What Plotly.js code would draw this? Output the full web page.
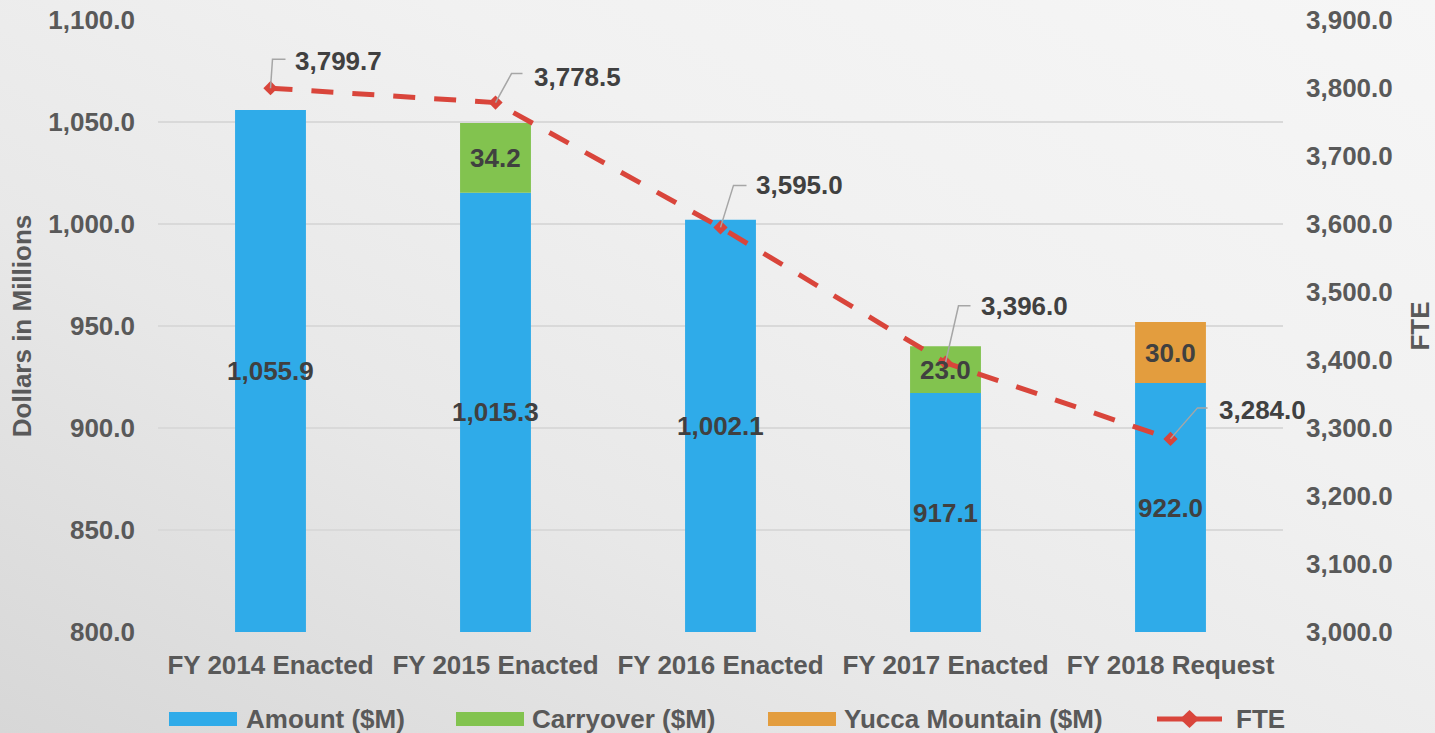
<!DOCTYPE html>
<html><head><meta charset="utf-8">
<script src="https://cdn.plot.ly/plotly-3.0.1.min.js"></script>
<style>
html,body{margin:0;padding:0;width:1435px;height:733px;overflow:hidden;
background:linear-gradient(to top right,#d7d7d7 0%,#e8e8e8 35%,#f1f1f1 65%,#f6f6f6 100%);}
#chart{width:1435px;height:733px;}
</style></head><body><div id="chart"></div>
<script>
// ---- data ----
const categories = ['FY 2014 Enacted', 'FY 2015 Enacted', 'FY 2016 Enacted', 'FY 2017 Enacted', 'FY 2018 Request'];
const amount = [1055.9, 1015.3, 1002.1, 917.1, 922.0];
const carryover = [null, 34.2, null, 23.0, null];
const yucca = [null, null, null, null, 30.0];
const fte = [3799.7, 3778.5, 3595.0, 3396.0, 3284.0];
const dollarTicks = [800, 850, 900, 950, 1000, 1050, 1100];
const fteTicks = [3000, 3100, 3200, 3300, 3400, 3500, 3600, 3700, 3800, 3900];
const seriesNames = ['Amount ($M)', 'Carryover ($M)', 'Yucca Mountain ($M)', 'FTE'];

// ---- styling ----
const COL = {blue: '#2FABE9', green: '#82C34F', orange: '#E39D3E', red: '#D9453B', text: '#595959', label: '#404040', grid: '#D9D9D9', leader: '#A6A6A6'};
const FAM = '"Liberation Sans", Arial, sans-serif';
const font = (size, color) => ({family: FAM, size: size, color: color, weight: 700});
const fmt = v => v.toLocaleString('en-US', {minimumFractionDigits: 1, maximumFractionDigits: 1});
const BARW = 0.315;
// leader-line geometry for FTE callouts (pixel offsets from each point)
const leader = [
  {ex: 2, ey: 29, hx: 15, tx: 22, ty: 27},
  {ex: 16, ey: 29, hx: 27, tx: 36, ty: 26},
  {ex: 13, ey: 42, hx: 26, tx: 33, ty: 42},
  {ex: 13, ey: 57, hx: 25, tx: 33, ty: 57},
  {ex: 27, ey: 31, hx: 37, tx: 46, ty: 29}
];

const traces = [
  {type: 'bar', name: seriesNames[0], x: categories, y: amount, width: BARW,
   marker: {color: COL.blue}, hovertemplate: '%{x}<br>%{y:,.1f}<extra>' + seriesNames[0] + '</extra>'},
  {type: 'bar', name: seriesNames[1], x: categories, y: carryover, base: amount, width: BARW,
   marker: {color: COL.green}, hovertemplate: '%{x}<br>%{y:,.1f}<extra>' + seriesNames[1] + '</extra>'},
  {type: 'bar', name: seriesNames[2], x: categories, y: yucca, base: amount, width: BARW,
   marker: {color: COL.orange}, hovertemplate: '%{x}<br>%{y:,.1f}<extra>' + seriesNames[2] + '</extra>'},
  {type: 'scatter', name: seriesNames[3], x: categories, y: fte, yaxis: 'y2', mode: 'lines+markers',
   line: {color: COL.red, width: 5, dash: '22px,19px'},
   marker: {symbol: 'diamond', size: 11, color: COL.red}, cliponaxis: false}
];

const annotations = [];
const shapes = [];
const yMin = dollarTicks[0];
categories.forEach((c, i) => {
  annotations.push({x: i, y: (yMin + amount[i]) / 2, xref: 'x', yref: 'y', text: fmt(amount[i]),
    showarrow: false, font: font(26, COL.label)});
  if (carryover[i] != null) annotations.push({x: i, y: amount[i] + carryover[i] / 2, xref: 'x', yref: 'y',
    text: fmt(carryover[i]), showarrow: false, font: font(26, COL.label)});
  if (yucca[i] != null) annotations.push({x: i, y: amount[i] + yucca[i] / 2, xref: 'x', yref: 'y',
    text: fmt(yucca[i]), showarrow: false, font: font(26, COL.label)});
  const L = leader[i];
  annotations.push({x: i, y: fte[i], xref: 'x', yref: 'y2', text: fmt(fte[i]), showarrow: false,
    xanchor: 'left', yanchor: 'middle', xshift: L.tx, yshift: L.ty, font: font(26, COL.label)});
  shapes.push({type: 'path', xref: 'x', yref: 'y2', xsizemode: 'pixel', ysizemode: 'pixel',
    xanchor: i, yanchor: fte[i], path: `M0,0L${L.ex},${L.ey}L${L.hx},${L.ey}`,
    line: {color: COL.leader, width: 1.5}});
});

// custom legend (pixel offsets from the bottom-left corner of the plot area)
const legendItems = [
  {sx0: 11, sx1: 79, tx: 86, color: COL.blue},
  {sx0: 298, sx1: 366, tx: 372, color: COL.green},
  {sx0: 610, sx1: 678, tx: 684, color: COL.orange}
];
legendItems.forEach((it, k) => {
  shapes.push({type: 'rect', xref: 'paper', yref: 'paper', xsizemode: 'pixel', ysizemode: 'pixel',
    xanchor: 0, yanchor: 0, x0: it.sx0, x1: it.sx1, y0: -80, y1: -94,
    fillcolor: it.color, line: {width: 0}});
  annotations.push({xref: 'paper', yref: 'paper', x: 0, y: 0, xshift: it.tx, yshift: -87,
    xanchor: 'left', yanchor: 'middle', text: seriesNames[k], showarrow: false, font: font(26, COL.text)});
});
shapes.push({type: 'line', xref: 'paper', yref: 'paper', xsizemode: 'pixel', ysizemode: 'pixel',
  xanchor: 0, yanchor: 0, x0: 999, x1: 1064, y0: -87, y1: -87, line: {color: COL.red, width: 5}});
shapes.push({type: 'path', xref: 'paper', yref: 'paper', xsizemode: 'pixel', ysizemode: 'pixel',
  xanchor: 0, yanchor: 0, path: 'M1031.5,-78L1041,-87L1031.5,-96L1022,-87Z', fillcolor: COL.red, line: {width: 0}});
annotations.push({xref: 'paper', yref: 'paper', x: 0, y: 0, xshift: 1076, yshift: -87,
  xanchor: 'left', yanchor: 'middle', text: seriesNames[3], showarrow: false, font: font(26, COL.text)});

const layout = {
  width: 1435, height: 733,
  margin: {l: 158, r: 152, t: 20, b: 101},
  paper_bgcolor: 'rgba(0,0,0,0)', plot_bgcolor: 'rgba(0,0,0,0)',
  barmode: 'overlay', showlegend: false, hovermode: 'closest',
  font: font(26, COL.text),
  xaxis: {type: 'category', range: [-0.5, categories.length - 0.5], autorange: false,
    showgrid: false, zeroline: false, showline: false, ticks: '',
    tickfont: font(26, COL.text), ticklabelstandoff: 15},
  yaxis: {range: [dollarTicks[0], dollarTicks[dollarTicks.length - 1]], tickmode: 'array', tickvals: dollarTicks,
    tickformat: ',.1f', showgrid: true, gridcolor: COL.grid, gridwidth: 1.5, zeroline: false, showline: false,
    ticks: '', tickfont: font(26, COL.text), ticklabelstandoff: 22,
    title: {text: 'Dollars in Millions', font: font(26, COL.text), standoff: 9}},
  yaxis2: {overlaying: 'y', side: 'right', range: [fteTicks[0], fteTicks[fteTicks.length - 1]], tickmode: 'array',
    tickvals: fteTicks, tickformat: ',.1f', showgrid: false, zeroline: false, showline: false, ticks: '',
    tickfont: font(26, COL.text), ticklabelstandoff: 22,
    title: {text: 'FTE', font: font(26, COL.text), standoff: 19}},
  annotations: annotations,
  shapes: shapes
};

Plotly.newPlot('chart', traces, layout, {displayModeBar: false, responsive: false});
</script>
</body></html>
